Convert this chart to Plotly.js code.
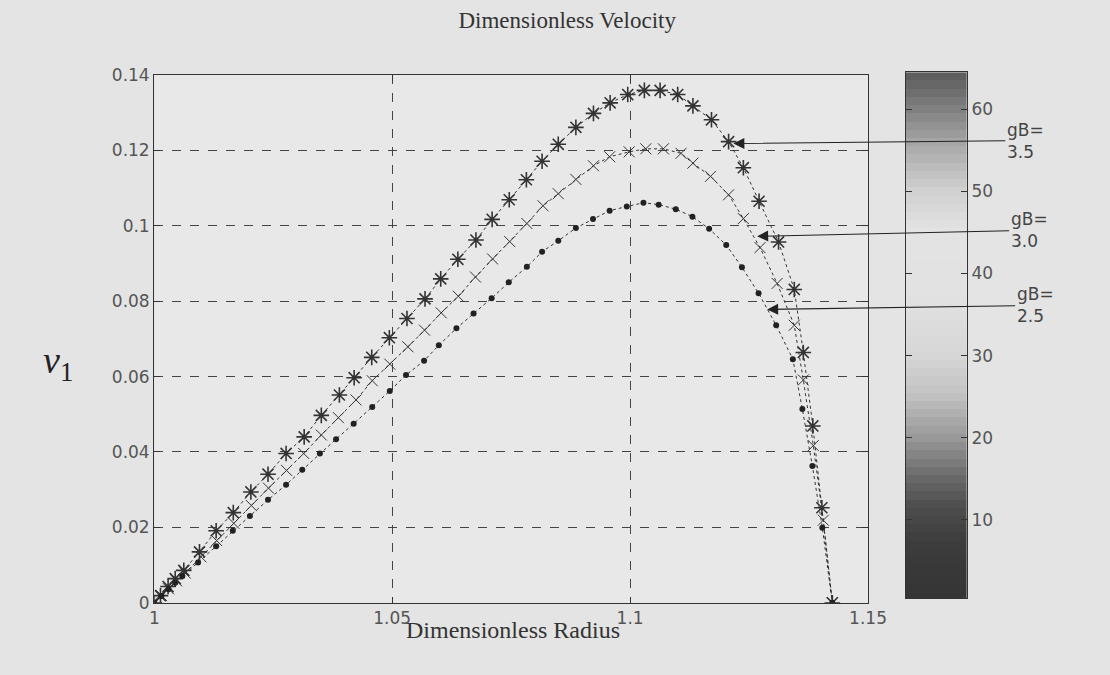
<!DOCTYPE html>
<html>
<head>
<meta charset="utf-8">
<script src="https://cdn.plot.ly/plotly-3.0.1.min.js"></script>
<style>
  html, body { margin: 0; padding: 0; background: #e4e4e4; }
  #chart { width: 1110px; height: 675px; }
</style>
</head>
<body>
<div id="chart"></div>
<script>
// gB = 3.5 (stars)
const radius35 = [1.0000, 1.0013, 1.0029, 1.0044, 1.0062, 1.0095, 1.0130, 1.0166, 1.0203, 1.0239, 1.0277, 1.0315, 1.0351, 1.0389, 1.0420, 1.0457, 1.0494, 1.0531, 1.0569, 1.0602, 1.0638, 1.0676, 1.0710, 1.0746, 1.0782, 1.0815, 1.0849, 1.0886, 1.0923, 1.0958, 1.0995, 1.1030, 1.1063, 1.1100, 1.1132, 1.1171, 1.1207, 1.1238, 1.1271, 1.1312, 1.1345, 1.1364, 1.1384, 1.1403, 1.1425];
const vel35    = [0.0000, 0.0019, 0.0043, 0.0064, 0.0086, 0.0135, 0.0191, 0.0239, 0.0294, 0.0341, 0.0396, 0.0440, 0.0497, 0.0551, 0.0597, 0.0651, 0.0703, 0.0754, 0.0806, 0.0859, 0.0911, 0.0962, 0.1017, 0.1069, 0.1122, 0.1171, 0.1216, 0.1261, 0.1298, 0.1326, 0.1348, 0.1359, 0.1359, 0.1348, 0.1318, 0.1281, 0.1223, 0.1154, 0.1065, 0.0957, 0.0831, 0.0664, 0.0469, 0.0252, 0.0000];

// gB = 3.0 (crosses)
const radius30 = [1.0000, 1.0015, 1.0030, 1.0047, 1.0065, 1.0098, 1.0131, 1.0167, 1.0204, 1.0240, 1.0278, 1.0314, 1.0351, 1.0387, 1.0424, 1.0458, 1.0495, 1.0533, 1.0568, 1.0603, 1.0639, 1.0675, 1.0711, 1.0747, 1.0783, 1.0817, 1.0849, 1.0886, 1.0923, 1.0957, 1.0998, 1.1033, 1.1070, 1.1107, 1.1132, 1.1169, 1.1207, 1.1238, 1.1273, 1.1309, 1.1345, 1.1364, 1.1385, 1.1406, 1.1425];
const vel30    = [0.0000, 0.0019, 0.0037, 0.0058, 0.0079, 0.0122, 0.0165, 0.0211, 0.0258, 0.0304, 0.0351, 0.0396, 0.0445, 0.0491, 0.0538, 0.0589, 0.0633, 0.0679, 0.0723, 0.0769, 0.0813, 0.0864, 0.0912, 0.0958, 0.1006, 0.1053, 0.1085, 0.1123, 0.1159, 0.1183, 0.1196, 0.1204, 0.1204, 0.1192, 0.1166, 0.1131, 0.1082, 0.1019, 0.0942, 0.0847, 0.0736, 0.0591, 0.0417, 0.0219, 0.0000];

// gB = 2.5 (dots)
const radius25 = [1.0000, 1.0015, 1.0030, 1.0044, 1.0059, 1.0092, 1.0130, 1.0165, 1.0201, 1.0239, 1.0277, 1.0311, 1.0348, 1.0382, 1.0419, 1.0458, 1.0495, 1.0529, 1.0567, 1.0598, 1.0635, 1.0671, 1.0709, 1.0745, 1.0783, 1.0815, 1.0849, 1.0886, 1.0922, 1.0957, 1.0993, 1.1028, 1.1060, 1.1096, 1.1131, 1.1166, 1.1202, 1.1235, 1.1270, 1.1307, 1.1342, 1.1362, 1.1383, 1.1404, 1.1425];
const vel25    = [0.0000, 0.0018, 0.0036, 0.0053, 0.0071, 0.0107, 0.0150, 0.0191, 0.0230, 0.0273, 0.0313, 0.0353, 0.0396, 0.0434, 0.0475, 0.0519, 0.0562, 0.0604, 0.0642, 0.0683, 0.0728, 0.0767, 0.0808, 0.0850, 0.0891, 0.0931, 0.0960, 0.0994, 0.1018, 0.1040, 0.1051, 0.1061, 0.1056, 0.1044, 0.1024, 0.0992, 0.0949, 0.0890, 0.0821, 0.0736, 0.0646, 0.0514, 0.0363, 0.0199, 0.0000];

// Curve labels and arrow targets
const curveLabels = ["gB=<br>3.5", "gB=<br>3.0", "gB=<br>2.5"];
const arrowRadius = [1.1217, 1.1267, 1.1288];
const arrowVel    = [0.1218, 0.0972, 0.0778];

// Axis ticks
const xTicks = [1, 1.05, 1.1, 1.15];
const xTickText = ["1", "1.05", "1.1", "1.15"];
const yTicks = [0, 0.02, 0.04, 0.06, 0.08, 0.1, 0.12, 0.14];
const yTickText = ["0", "0.02", "0.04", "0.06", "0.08", "0.1", "0.12", "0.14"];

// Colour bar (64-level colormap index) and its ticks
const cbarLevels = [1,2,3,4,5,6,7,8,9,10,11,12,13,14,15,16,17,18,19,20,21,22,23,24,25,26,27,28,29,30,31,32,33,34,35,36,37,38,39,40,41,42,43,44,45,46,47,48,49,50,51,52,53,54,55,56,57,58,59,60,61,62,63,64];
const cbarTicks = [10, 20, 30, 40, 50, 60];

const grayScale = [
  [0.00, '#353535'], [0.10, '#3c3c3c'], [0.17, '#4e4e4e'], [0.23, '#6c6c6c'],
  [0.30, '#979797'], [0.38, '#c0c0c0'], [0.46, '#d6d6d6'], [0.58, '#e2e2e2'],
  [0.70, '#e3e3e3'], [0.78, '#d0d0d0'], [0.86, '#acacac'], [0.93, '#848484'],
  [1.00, '#5e5e5e']
];

const serif = 'Liberation Serif, Times New Roman, serif';
const sans = 'DejaVu Sans, Arial, sans-serif';
const lineStyle = {color: '#333', width: 1, dash: 'dot'};

const traces = [
  {x: radius35, y: vel35, type: 'scatter', mode: 'lines+markers', name: 'gB=3.5',
   line: lineStyle,
   marker: {symbol: 'asterisk-open', size: 13, line: {color: '#222', width: 1.6}}},
  {x: radius30, y: vel30, type: 'scatter', mode: 'lines+markers', name: 'gB=3.0',
   line: lineStyle,
   marker: {symbol: 'x-thin-open', size: 11, line: {color: '#555', width: 1}}},
  {x: radius25, y: vel25, type: 'scatter', mode: 'lines+markers', name: 'gB=2.5',
   line: lineStyle,
   marker: {symbol: 'circle', size: 6, color: '#222'}},
  {z: cbarLevels.map(v => [v]), y: cbarLevels, x: [0], type: 'heatmap',
   xaxis: 'x2', yaxis: 'y2', colorscale: grayScale, showscale: false,
   zmin: 1, zmax: 64, hoverinfo: 'skip'}
];

const annotations = curveLabels.map((t, i) => ({
  x: arrowRadius[i], y: arrowVel[i], xref: 'x', yref: 'y',
  text: t, align: 'left', showarrow: true,
  ax: [292, 272, 268][i], ay: [-3, -6, -4][i],
  arrowhead: 2, arrowsize: 2, arrowwidth: 1.1, arrowcolor: '#222', standoff: 0,
  font: {family: sans, size: 17, color: '#444'}
}));

annotations.push({
  text: 'Dimensionless Radius', xref: 'paper', yref: 'paper',
  x: 0.462, y: 0.066, xanchor: 'center', yanchor: 'middle', showarrow: false,
  font: {family: serif, size: 24, color: '#333'}
});
annotations.push({
  text: '<i>v</i><sub>1</sub>', xref: 'paper', yref: 'paper',
  x: 0.052, y: 0.462, xanchor: 'center', yanchor: 'middle', showarrow: false,
  font: {family: serif, size: 38, color: '#222'}
});

const layout = {
  width: 1110, height: 675,
  paper_bgcolor: '#e4e4e4', plot_bgcolor: '#e8e8e8',
  margin: {l: 0, r: 0, t: 0, b: 0},
  showlegend: false,
  title: {text: 'Dimensionless Velocity', x: 0.511, xanchor: 'center', y: 0.97, yanchor: 'middle',
          font: {family: serif, size: 23, color: '#333'}},
  xaxis: {
    domain: [0.139, 0.782], range: [1, 1.15],
    tickvals: xTicks, ticktext: xTickText,
    ticks: 'inside', ticklen: 6, tickcolor: '#333', mirror: 'ticks',
    showline: true, linecolor: '#333', linewidth: 1.2,
    showgrid: true, gridcolor: '#444', griddash: 'dash', gridwidth: 1,
    zeroline: false,
    tickfont: {family: sans, size: 17, color: '#555'}
  },
  yaxis: {
    domain: [0.107, 0.889], range: [0, 0.14],
    tickvals: yTicks, ticktext: yTickText,
    ticks: 'inside', ticklen: 6, tickcolor: '#333', mirror: 'ticks',
    showline: true, linecolor: '#333', linewidth: 1.2,
    showgrid: true, gridcolor: '#444', griddash: 'dash', gridwidth: 1,
    zeroline: false,
    tickfont: {family: sans, size: 17, color: '#555'}
  },
  xaxis2: {
    domain: [0.816, 0.871], anchor: 'y2', range: [-0.5, 0.5],
    showticklabels: false, ticks: '', showgrid: false, zeroline: false,
    showline: true, mirror: true, linecolor: '#333', linewidth: 1.2
  },
  yaxis2: {
    domain: [0.114, 0.893], anchor: 'x2', side: 'right', range: [0.5, 64.5],
    tickvals: cbarTicks, ticks: 'inside', ticklen: 6, tickcolor: '#333', mirror: 'allticks',
    showline: true, linecolor: '#333', linewidth: 1.2, showgrid: false, zeroline: false,
    tickfont: {family: sans, size: 17, color: '#555'}
  },
  annotations: annotations
};

Plotly.newPlot('chart', traces, layout, {displayModeBar: false, staticPlot: true});
</script>
</body>
</html>
